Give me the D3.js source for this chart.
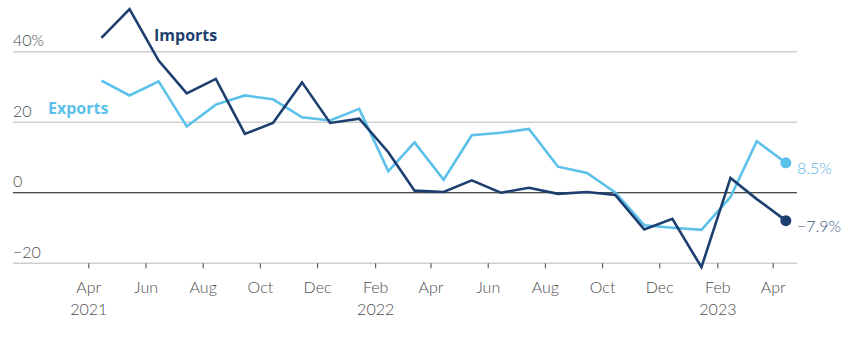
<!DOCTYPE html>
<html>
<head>
<meta charset="utf-8">
<script src="https://cdn.jsdelivr.net/npm/d3@7"></script>
<style>
  html, body { margin: 0; padding: 0; background: #fff; }
  svg { display: block; }
  .light { font-family: "Source Sans Pro", Lato, "Open Sans", sans-serif; font-weight: 300; }
  .bold { font-family: "Open Sans", "Source Sans Pro", sans-serif; font-weight: 700; }
</style>
</head>
<body>
<svg id="chart" width="848" height="342"></svg>
<script>
// Monthly observations, year-on-year % change
const months = [
  "2021-04","2021-05","2021-06","2021-07","2021-08","2021-09","2021-10","2021-11","2021-12",
  "2022-01","2022-02","2022-03","2022-04","2022-05","2022-06","2022-07","2022-08","2022-09",
  "2022-10","2022-11","2022-12","2023-01","2023-02","2023-03","2023-04"
];
const imports = [43.9, 52.1, 37.5, 28.2, 32.3, 16.7, 19.8, 31.3, 19.8, 21.0, 11.5, 0.6, 0.2,
                 3.5, 0.0, 1.4, -0.3, 0.2, -0.6, -10.4, -7.4, -21.1, 4.2, -1.8, -7.9];
const exports = [31.8, 27.6, 31.6, 18.8, 25.0, 27.6, 26.5, 21.4, 20.5, 23.8, 6.1, 14.3, 3.7,
                 16.3, 17.0, 18.1, 7.4, 5.6, 0.1, -9.2, -9.9, -10.5, -1.2, 14.6, 8.5];
const yTicks = [-20, 0, 20, 40];
const yTickLabels = ["\u221220", "0", "20", "40%"];
const xTickMonths = ["2021-04","2021-06","2021-08","2021-10","2021-12","2022-02","2022-04",
                     "2022-06","2022-08","2022-10","2022-12","2023-02","2023-04"];
const monthNames = ["Jan","Feb","Mar","Apr","May","Jun","Jul","Aug","Sep","Oct","Nov","Dec"];

const COLOR_IMP = "#1c3f6f";
const COLOR_EXP = "#5cc1ea";
const COLOR_TEXT = "#4d4d4d";

const svg = d3.select("#chart");

const parseMonth = d3.timeParse("%Y-%m");
const midMonth = s => { const d = parseMonth(s); d.setDate(15); return d; };

const x = d3.scaleTime()
  .domain([parseMonth("2021-04"), parseMonth("2023-04")])
  .range([88.3, 772.7]);
const y = d3.scaleLinear().domain([-20, 40]).range([263.3, 51.7]);

const gridLeft = 13, gridRight = 797;

// Horizontal gridlines and their labels
const grid = svg.append("g");
grid.selectAll("line").data(yTicks).join("line")
  .attr("x1", gridLeft).attr("x2", gridRight)
  .attr("y1", d => y(d)).attr("y2", d => y(d))
  .attr("stroke", d => d === 0 ? "#111" : "#cfcfcf")
  .attr("stroke-width", d => d === 0 ? 1.2 : 1.5);
grid.selectAll("text").data(yTicks).join("text")
  .attr("class", "light")
  .attr("x", gridLeft)
  .attr("y", d => y(d) - 5.5)
  .attr("font-size", 16)
  .attr("fill", COLOR_TEXT)
  .text((d, i) => yTickLabels[i]);

// Bottom time axis
const xAxis = d3.axisBottom(x)
  .tickValues(xTickMonths.map(parseMonth))
  .tickSize(5)
  .tickPadding(6)
  .tickFormat(() => "");
const axisG = svg.append("g").attr("transform", `translate(0,${y(-20)})`).call(xAxis);
axisG.select(".domain").remove();
axisG.selectAll(".tick line").attr("stroke", "#444").attr("stroke-width", 1);
axisG.selectAll(".tick").each(function(d) {
  const t = d3.select(this).append("text")
    .attr("class", "light")
    .attr("text-anchor", "middle")
    .attr("font-size", 16)
    .attr("fill", COLOR_TEXT);
  t.append("tspan").attr("x", 0).attr("y", 30).text(monthNames[d.getMonth()]);
  if (d.getMonth() === 3 && d.getFullYear() === 2021 || d.getMonth() === 1) {
    t.append("tspan").attr("x", 0).attr("y", 52).text(d.getFullYear());
  }
});

// Series lines
const line = d3.line()
  .x((d, i) => x(midMonth(months[i])))
  .y(d => y(d))
  .curve(d3.curveLinear);

svg.append("path").datum(exports)
  .attr("d", line).attr("fill", "none")
  .attr("stroke", COLOR_EXP).attr("stroke-width", 2.6)
  .attr("stroke-linejoin", "miter");
svg.append("path").datum(imports)
  .attr("d", line).attr("fill", "none")
  .attr("stroke", COLOR_IMP).attr("stroke-width", 2.6)
  .attr("stroke-linejoin", "miter");

// End points and value labels
const last = months.length - 1;
const ends = [
  { v: exports[last], color: COLOR_EXP, textColor: "#52b5e0", text: "8.5%" },
  { v: imports[last], color: COLOR_IMP, textColor: "#3b5b85", text: "\u22127.9%" }
];
ends.forEach(e => {
  svg.append("circle")
    .attr("cx", x(midMonth(months[last])))
    .attr("cy", y(e.v))
    .attr("r", 5.5)
    .attr("fill", e.color);
  svg.append("text")
    .attr("class", "light")
    .attr("x", 797)
    .attr("y", y(e.v) + 11.5)
    .attr("font-size", 16)
    .attr("fill", e.textColor)
    .text(e.text);
});

// Series names
svg.append("text").attr("class", "bold")
  .attr("x", 154).attr("y", 40.5)
  .attr("font-size", 16).attr("fill", COLOR_IMP)
  .text("Imports");
svg.append("text").attr("class", "bold")
  .attr("x", 48).attr("y", 114)
  .attr("font-size", 16).attr("fill", COLOR_EXP)
  .text("Exports");
</script>
</body>
</html>
